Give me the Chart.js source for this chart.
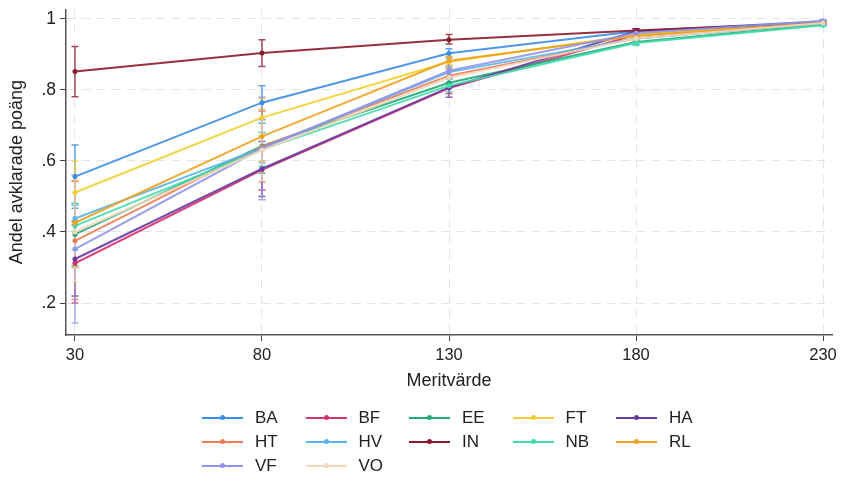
<!DOCTYPE html>
<html>
<head>
<meta charset="utf-8">
<script src="https://cdn.jsdelivr.net/npm/chart.js@4"></script>
<style>
  body { margin: 0; background: #fff; }
  #wrap { position: relative; width: 842px; height: 477px; font-family: "Liberation Sans", Arial, sans-serif; }
  #chart { position: absolute; left: 0; top: 0; }
  #legend { position: absolute; left: 202px; top: 406px; display: grid;
            grid-template-columns: repeat(5, 103.5px); grid-auto-rows: 24px; }
  .item { display: flex; align-items: center; font-size: 17px; color: #222; }
  .swatch { position: relative; width: 41px; height: 2px; margin-right: 12px; }
  .swatch span { position: absolute; left: 18px; top: -2px; width: 5px; height: 5px; border-radius: 50%; }
</style>
</head>
<body>
<div id="wrap">
  <canvas id="chart" width="842" height="477"></canvas>
  <div id="legend"></div>
</div>
<script>
const meritValues = [30, 80, 130, 180, 230];
const groupNames = ["BA", "BF", "EE", "FT", "HA", "HT", "HV", "IN", "NB", "RL", "VF", "VO"];
const groupColors = ["#3a8de6", "#d4336f", "#1faa78", "#f2cf2e", "#6b3a9c", "#f07a52",
                     "#5ab3ea", "#8a1b2e", "#3fdcae", "#f0a21e", "#8e96ea", "#f4d6b8"];

const shareBA = [0.556, 0.764, 0.903, 0.965, 0.993];
const shareBF = [0.312, 0.575, 0.805, 0.955, 0.988];
const shareEE = [0.393, 0.642, 0.820, 0.935, 0.984];
const shareFT = [0.511, 0.722, 0.879, 0.955, 0.990];
const shareHA = [0.324, 0.578, 0.807, 0.965, 0.990];
const shareHT = [0.375, 0.640, 0.840, 0.945, 0.988];
const shareHV = [0.438, 0.636, 0.850, 0.945, 0.988];
const shareIN = [0.852, 0.904, 0.941, 0.967, 0.990];
const shareNB = [0.417, 0.632, 0.812, 0.932, 0.982];
const shareRL = [0.426, 0.669, 0.882, 0.952, 0.990];
const shareVF = [0.352, 0.635, 0.854, 0.960, 0.994];
const shareVO = [0.400, 0.630, 0.835, 0.945, 0.988];

const lowBA = [0.467, 0.716, 0.890, 0.958, 0.990];
const lowBF = [0.200, 0.518, 0.790, 0.948, 0.985];
const lowEE = [0.305, 0.565, 0.805, 0.928, 0.981];
const lowFT = [0.426, 0.670, 0.865, 0.948, 0.987];
const lowHA = [0.220, 0.500, 0.779, 0.958, 0.987];
const lowHT = [0.210, 0.540, 0.820, 0.938, 0.985];
const lowHV = [0.400, 0.595, 0.835, 0.940, 0.985];
const lowIN = [0.781, 0.866, 0.929, 0.962, 0.987];
const lowNB = [0.350, 0.585, 0.795, 0.925, 0.979];
const lowRL = [0.300, 0.600, 0.870, 0.946, 0.987];
const lowVF = [0.144, 0.491, 0.830, 0.952, 0.991];
const lowVO = [0.260, 0.545, 0.815, 0.938, 0.985];

const highBA = [0.645, 0.812, 0.916, 0.972, 0.996];
const highBF = [0.420, 0.635, 0.820, 0.962, 0.991];
const highEE = [0.480, 0.706, 0.835, 0.942, 0.987];
const highFT = [0.599, 0.775, 0.893, 0.962, 0.993];
const highHA = [0.430, 0.655, 0.835, 0.972, 0.993];
const highHT = [0.543, 0.740, 0.860, 0.952, 0.991];
const highHV = [0.475, 0.680, 0.865, 0.950, 0.991];
const highIN = [0.922, 0.941, 0.956, 0.972, 0.993];
const highNB = [0.480, 0.680, 0.830, 0.940, 0.985];
const highRL = [0.545, 0.745, 0.895, 0.958, 0.993];
const highVF = [0.560, 0.779, 0.878, 0.968, 0.997];
const highVO = [0.560, 0.720, 0.855, 0.952, 0.991];

const yTicks = [0.2, 0.4, 0.6, 0.8, 1];
const yTickLabels = [".2", ".4", ".6", ".8", "1"];

const shares = [shareBA, shareBF, shareEE, shareFT, shareHA, shareHT, shareHV, shareIN, shareNB, shareRL, shareVF, shareVO];
const lows = [lowBA, lowBF, lowEE, lowFT, lowHA, lowHT, lowHV, lowIN, lowNB, lowRL, lowVF, lowVO];
const highs = [highBA, highBF, highEE, highFT, highHA, highHT, highHV, highIN, highNB, highRL, highVF, highVO];

function withAlpha(hex, a) {
    const n = parseInt(hex.slice(1), 16);
    return "rgba(" + (n >> 16) + "," + ((n >> 8) & 255) + "," + (n & 255) + "," + a + ")";
}

const datasets = groupNames.map((name, i) => ({
    label: name,
    data: meritValues.map((x, j) => ({ x: x, y: shares[i][j] })),
    low: lows[i],
    high: highs[i],
    borderColor: withAlpha(groupColors[i], 0.9),
    backgroundColor: groupColors[i],
    borderWidth: 2,
    pointRadius: 2.5,
    pointBorderWidth: 0,
    tension: 0,
    order: groupNames.length - i
}));

// error bars drawn with the chart's own scales
const errorBars = {
    id: "errorBars",
    beforeDatasetsDraw(chart) {
        const ctx = chart.ctx;
        const xs = chart.scales.x;
        const ys = chart.scales.y;
        chart.data.datasets.forEach((ds, i) => {
            ctx.save();
            ctx.strokeStyle = withAlpha(groupColors[i], 0.8);
            ctx.lineWidth = 1.5;
            ds.data.forEach((p, j) => {
                const px = xs.getPixelForValue(p.x);
                const y1 = ys.getPixelForValue(ds.low[j]);
                const y2 = ys.getPixelForValue(ds.high[j]);
                ctx.beginPath();
                ctx.moveTo(px, y1); ctx.lineTo(px, y2);
                ctx.moveTo(px - 3.5, y1); ctx.lineTo(px + 3.5, y1);
                ctx.moveTo(px - 3.5, y2); ctx.lineTo(px + 3.5, y2);
                ctx.stroke();
            });
            ctx.restore();
        });
    }
};

new Chart(document.getElementById("chart"), {
    type: "line",
    data: { datasets: datasets },
    plugins: [errorBars],
    options: {
        responsive: false,
        animation: false,
        layout: { padding: { top: 5, right: 10, bottom: 85, left: 0 } },
        plugins: { legend: { display: false }, tooltip: { enabled: false } },
        scales: {
            x: {
                type: "linear",
                min: 27.6,
                max: 232.4,
                afterBuildTicks: s => { s.ticks = meritValues.map(v => ({ value: v })); },
                afterFit: s => { s.height = 57; },
                ticks: { color: "#222", font: { size: 16.5, family: "Liberation Sans" }, padding: 5, maxRotation: 0 },
                grid: { color: "#e4e4e4", tickColor: "#444", tickLength: 6 },
                border: { color: "#555", width: 1.5, dash: [9, 6] },
                title: { display: true, text: "Meritvärde", color: "#222",
                         font: { size: 18, family: "Liberation Sans" }, padding: { top: 0, bottom: 0 } }
            },
            y: {
                min: 0.110,
                max: 1.027,
                afterBuildTicks: s => { s.ticks = yTicks.map(v => ({ value: v })); },
                afterFit: s => { s.width = 66; },
                ticks: { color: "#222", font: { size: 17.5, family: "Liberation Sans", lineHeight: 0.6 }, padding: 4,
                         callback: v => yTickLabels[yTicks.indexOf(v)] },
                grid: { color: "#e4e4e4", tickColor: "#444", tickLength: 6 },
                border: { color: "#555", width: 1.5, dash: [9, 6] },
                title: { display: true, text: "Andel avklarade poäng", color: "#222",
                         font: { size: 18, family: "Liberation Sans" }, padding: { top: 6, bottom: 0 } }
            }
        }
    }
});

const legend = document.getElementById("legend");
groupNames.forEach((name, i) => {
    const item = document.createElement("div");
    item.className = "item";
    item.innerHTML = '<div class="swatch" style="background:' + groupColors[i] + '"><span style="background:' +
        groupColors[i] + '"></span></div>' + name;
    legend.appendChild(item);
});
</script>
</body>
</html>
